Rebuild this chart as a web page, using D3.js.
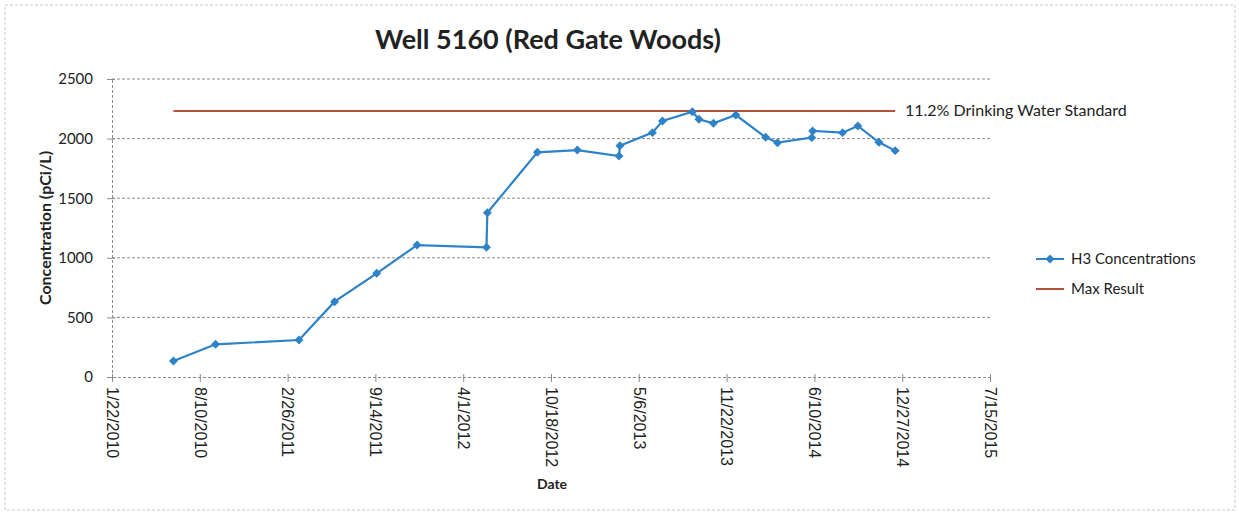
<!DOCTYPE html>
<html>
<head>
<meta charset="utf-8">
<script src="https://cdn.jsdelivr.net/npm/d3@7"></script>
<style>
  body { margin: 0; background: #fff; }
  svg { display: block; }
</style>
</head>
<body>
<div id="chart"></div>
<script>
// sample dates and H3 results
var sampleDates = [
  '6/11/2010', '9/15/2010', '3/24/2011', '6/13/2011', '9/17/2011', '12/18/2011',
  '5/24/2012', '5/26/2012', '9/17/2012', '12/17/2012', '3/22/2013', '3/24/2013',
  '6/6/2013', '6/29/2013', '9/5/2013', '9/20/2013', '10/23/2013', '12/13/2013',
  '2/19/2014', '3/18/2014', '6/4/2014', '6/6/2014', '8/13/2014', '9/17/2014',
  '11/4/2014', '12/11/2014'
];
var h3Values = [
  134, 274, 310, 632, 870, 1107,
  1088, 1378, 1885, 1904, 1854, 1940,
  2050, 2148, 2226, 2162, 2128, 2198,
  2011, 1966, 2008, 2064, 2050, 2106,
  1969, 1899
];
var maxResult = 2232;
var yTicks = [0, 500, 1000, 1500, 2000, 2500];
var xTickLabels = ['1/22/2010', '8/10/2010', '2/26/2011', '9/14/2011', '4/1/2012',
  '10/18/2012', '5/6/2013', '11/22/2013', '6/10/2014', '12/27/2014', '7/15/2015'];

var width = 1239, height = 513;
var plotLeft = 112, plotRight = 990, plotTop = 79, plotBottom = 377;

var parse = d3.timeParse('%m/%d/%Y');
var points = sampleDates.map(function (d, i) { return { date: parse(d), value: h3Values[i] }; });
var tickDates = xTickLabels.map(parse);

var x = d3.scaleTime()
  .domain([tickDates[0], tickDates[tickDates.length - 1]])
  .range([plotLeft, plotRight]);
var y = d3.scaleLinear().domain([0, 2500]).range([plotBottom, plotTop]);

var svg = d3.select('#chart').append('svg')
  .attr('width', width)
  .attr('height', height);

// outer chart frame
svg.append('rect')
  .attr('x', 5).attr('y', 5)
  .attr('width', 1230).attr('height', 505)
  .attr('fill', 'none')
  .attr('stroke', '#c8c8c8')
  .attr('stroke-dasharray', '3,2');

// gridlines
svg.append('g').selectAll('line')
  .data(yTicks.slice(1))
  .enter().append('line')
  .attr('x1', plotLeft).attr('x2', plotRight)
  .attr('y1', function (d) { return y(d); })
  .attr('y2', function (d) { return y(d); })
  .attr('stroke', '#8a8a8a')
  .attr('stroke-width', 1)
  .attr('stroke-dasharray', '3,2');

// y axis
var yAxis = svg.append('g')
  .attr('transform', 'translate(' + plotLeft + ',0)')
  .call(d3.axisLeft(y).tickValues(yTicks).tickSize(5).tickPadding(14)
    .tickFormat(d3.format('d')));
yAxis.select('.domain').attr('stroke', '#8a8a8a').attr('stroke-dasharray', '3,2');
yAxis.selectAll('.tick line').attr('stroke', '#8a8a8a').attr('x2', 3).attr('x1', -5);
yAxis.selectAll('.tick text')
  .style('font-family', 'Lato, "Open Sans", sans-serif')
  .style('font-size', '15px')
  .attr('fill', '#222');

// x axis
var xAxis = svg.append('g')
  .attr('transform', 'translate(0,' + plotBottom + ')')
  .call(d3.axisBottom(x).tickValues(tickDates).tickSize(5)
    .tickFormat(function (d, i) { return xTickLabels[i]; }));
xAxis.select('.domain').attr('stroke', '#8a8a8a').attr('stroke-dasharray', '3,2');
xAxis.selectAll('.tick line').attr('stroke', '#8a8a8a').attr('y1', -3).attr('y2', 5);
xAxis.selectAll('.tick text')
  .attr('transform', 'rotate(90)')
  .attr('x', 10).attr('y', 0)
  .attr('dy', '0.35em')
  .style('text-anchor', 'start')
  .style('font-family', '"Liberation Sans", Arial, sans-serif')
  .style('font-size', '16px')
  .attr('fill', '#222');

// max result line
svg.append('line')
  .attr('x1', x(points[0].date))
  .attr('x2', x(points[points.length - 1].date))
  .attr('y1', y(maxResult)).attr('y2', y(maxResult))
  .attr('stroke', '#b5503a')
  .attr('stroke-width', 2);

svg.append('text')
  .attr('x', 905).attr('y', y(maxResult) + 5)
  .style('font-family', 'Lato, "Open Sans", sans-serif')
  .style('font-size', '16px')
  .attr('fill', '#222')
  .text('11.2% Drinking Water Standard');

// H3 series
var line = d3.line()
  .x(function (d) { return x(d.date); })
  .y(function (d) { return y(d.value); });

svg.append('path')
  .datum(points)
  .attr('d', line)
  .attr('fill', 'none')
  .attr('stroke', '#2d82c8')
  .attr('stroke-width', 2.2);

// Excel-style marker: a square turned 45 degrees
var marker = d3.symbol().type(d3.symbolSquare).size(40);
svg.append('g').selectAll('path')
  .data(points)
  .enter().append('path')
  .attr('d', marker)
  .attr('transform', function (d) { return 'translate(' + x(d.date) + ',' + y(d.value) + ') rotate(45)'; })
  .attr('fill', '#2d82c8');

// titles
svg.append('text')
  .attr('x', 548).attr('y', 49)
  .attr('text-anchor', 'middle')
  .style('font-family', 'Lato, "Open Sans", sans-serif')
  .style('font-size', '27px')
  .style('font-weight', 'bold')
  .attr('fill', '#222')
  .text('Well 5160 (Red Gate Woods)');

svg.append('text')
  .attr('transform', 'translate(51,' + ((plotTop + plotBottom) / 2) + ') rotate(-90)')
  .attr('text-anchor', 'middle')
  .style('font-family', 'Lato, "Open Sans", sans-serif')
  .style('font-size', '16px')
  .style('font-weight', 'bold')
  .attr('fill', '#222')
  .text('Concentration (pCi/L)');

svg.append('text')
  .attr('x', 552).attr('y', 489)
  .attr('text-anchor', 'middle')
  .style('font-family', 'Lato, "Open Sans", sans-serif')
  .style('font-size', '14px')
  .style('font-weight', 'bold')
  .attr('fill', '#222')
  .text('Date');

// legend
var legend = svg.append('g');
legend.append('line')
  .attr('x1', 1036).attr('x2', 1064).attr('y1', 259).attr('y2', 259)
  .attr('stroke', '#2d82c8').attr('stroke-width', 2);
legend.append('path')
  .attr('d', marker)
  .attr('transform', 'translate(1050,259) rotate(45)')
  .attr('fill', '#2d82c8');
legend.append('text')
  .attr('x', 1071).attr('y', 264)
  .style('font-family', 'Lato, "Open Sans", sans-serif')
  .style('font-size', '15px')
  .attr('fill', '#222')
  .text('H3 Concentrations');
legend.append('line')
  .attr('x1', 1036).attr('x2', 1064).attr('y1', 289).attr('y2', 289)
  .attr('stroke', '#b5503a').attr('stroke-width', 2);
legend.append('text')
  .attr('x', 1071).attr('y', 294)
  .style('font-family', 'Lato, "Open Sans", sans-serif')
  .style('font-size', '15px')
  .attr('fill', '#222')
  .text('Max Result');
</script>
</body>
</html>
